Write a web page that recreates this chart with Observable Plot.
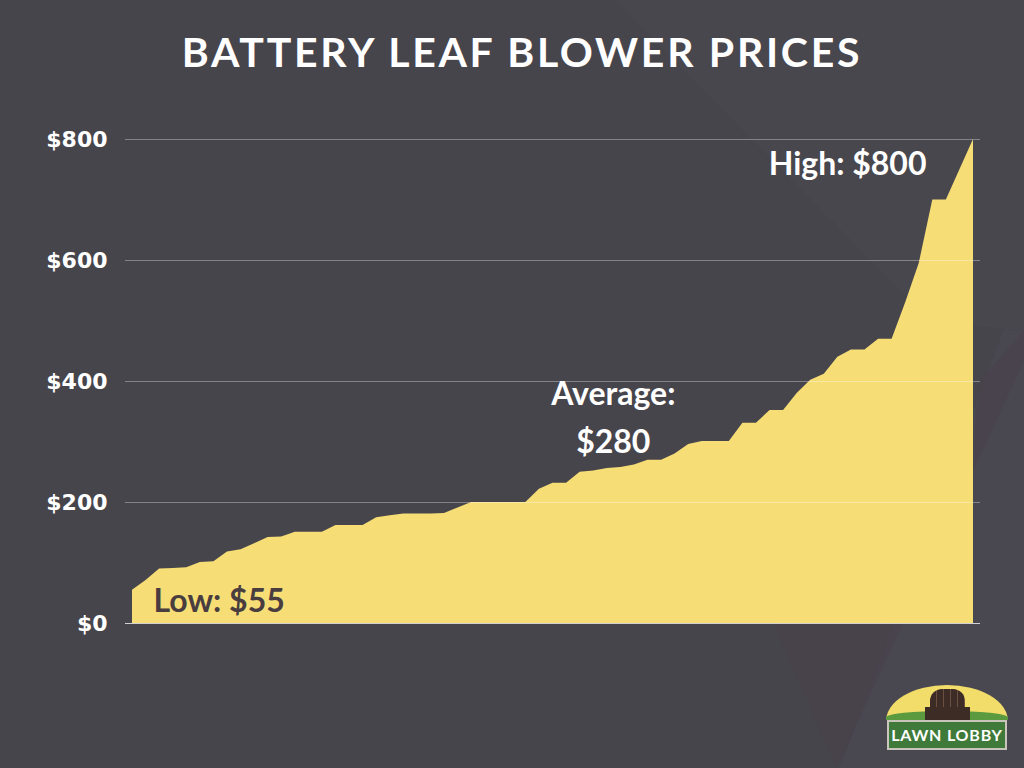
<!DOCTYPE html>
<html>
<head>
<meta charset="utf-8">
<script src="https://cdn.jsdelivr.net/npm/d3@7"></script>
<script src="https://cdn.jsdelivr.net/npm/@observablehq/plot@0.6"></script>
<style>
  html, body { margin: 0; padding: 0; }
  body { width: 1024px; height: 768px; background: #47454c; position: relative; overflow: hidden; font-family: Lato, "DejaVu Sans", sans-serif; }
  .bg { position: absolute; inset: 0; }
  .bg1 { background: #4a4950; clip-path: polygon(60% 0, 100% 0, 100% 43%, 91% 42%); opacity: 0.5; }
  .bg2 { background: #48404a; clip-path: polygon(95.7% 49.5%, 100% 43%, 100% 47%, 81.7% 100%, 75.5% 81%, 93% 81%); opacity: 0.55; }
  .bg3 { background: #4a4a52; clip-path: polygon(98% 43%, 100% 43%, 100% 100%, 82% 100%); opacity: 0.7; }
  #title { position: absolute; top: 28px; left: 0; width: 1044px; text-align: center; color: #fff; font-family: Lato, sans-serif; font-weight: 700; font-size: 41px; letter-spacing: 2.7px; line-height: 48px; }
  #chart { position: absolute; left: 0; top: 0; }
  #chart text.anno { letter-spacing: 1.4px; }
  #logo { position: absolute; left: 885px; top: 684px; width: 124px; height: 66px; }
  #logo .sun { position: absolute; left: 1px; top: 1px; width: 122px; height: 70px; border-radius: 61px 61px 0 0 / 36px 36px 0 0; background: #f3dd6a; clip-path: inset(0 0 38px 0); }
  #logo .grass { position: absolute; left: 1px; top: 27px; width: 122px; height: 9px; background: #5c9a3f; border-radius: 50% 50% 0 0 / 70% 70% 0 0; }
  #logo .chair { position: absolute; left: 45px; top: 5px; width: 35px; height: 31px; background: repeating-linear-gradient(90deg, #3d2b26 0 6px, #6a5040 6px 7px); border-radius: 12px 12px 0 0; }
  #logo .chairb { position: absolute; left: 40px; top: 23px; width: 45px; height: 13px; background: #3d2b26; }
  #logo .label { position: absolute; left: 2px; top: 36px; width: 116px; height: 26px; background: #3f7a3a; border: 2px solid #c9c5bd; color: #fff; font-family: Lato, sans-serif; font-weight: 700; font-size: 16px; line-height: 26px; text-align: center; letter-spacing: 0.8px; white-space: nowrap; overflow: hidden; }
</style>
</head>
<body>
<div class="bg bg1"></div>
<div class="bg bg3"></div>
<div class="bg bg2"></div>
<div id="title">BATTERY LEAF BLOWER PRICES</div>
<div id="chart"></div>
<div id="logo"><div class="sun"></div><div class="grass"></div><div class="chair"></div><div class="chairb"></div><div class="label">LAWN LOBBY</div></div>
<script>
// Prices of battery leaf blowers, sorted ascending
const prices = [
  55, 71, 90, 91, 92, 101, 102, 118, 122, 132,
  142, 143, 151, 151, 151, 162, 162, 162, 175, 178,
  181, 181, 181, 182, 191, 200, 200, 200, 200, 200,
  222, 232, 232, 250, 252, 256, 258, 262, 270, 270,
  280, 296, 301, 301, 301, 331, 331, 352, 352, 380,
  402, 412, 440, 452, 452, 470, 470, 530, 595, 700,
  700, 750, 800
];
const yTicks = [0, 200, 400, 600, 800];
const tickLabels = ["$0", "$200", "$400", "$600", "$800"];

// Annotations (anchored in data coordinates)
const annoText = ["High: $800", "Average:\n$280", "Low: $55"];
const annoX = [62, 35, 0];
const annoY = [800, 280, 0];

const data = prices.map((p, i) => ({i, p}));
const annos = annoText.map((t, k) => ({t, x: annoX[k], y: annoY[k]}));

const font = "Lato, 'DejaVu Sans', sans-serif";

const chart = Plot.plot({
  width: 1024,
  height: 768,
  marginTop: 139,
  marginBottom: 145,
  marginLeft: 125,
  marginRight: 44,
  style: {background: "transparent", color: "#fff", fontFamily: font},
  x: {domain: [0, prices.length - 1], insetLeft: 7, insetRight: 7, axis: null},
  y: {domain: [0, 800], axis: null},
  marks: [
    Plot.areaY(data, {x: "i", y: "p", fill: "#f6dd76"}),
    Plot.ruleY(yTicks.filter(d => d > 0), {stroke: "#ffffff", strokeOpacity: 0.33, strokeWidth: 1}),
    Plot.ruleY([0], {stroke: "#ffffff", strokeOpacity: 0.75, strokeWidth: 1}),
    Plot.axisY(yTicks, {
      tickSize: 0, tickPadding: 18, tickFormat: (d) => tickLabels[yTicks.indexOf(d)],
      fontSize: 22, fontWeight: 700, fill: "#ffffff", label: null,
      fontFamily: "'DejaVu Sans', sans-serif"
    }),
    Plot.text(annos.filter(d => d.x === 62), {x: "x", y: "y", text: "t", className: "anno", textAnchor: "end", dx: -47, dy: 25, fontSize: 32, fontWeight: 700, fill: "#ffffff", fontFamily: font}),
    Plot.text(annos.filter(d => d.x === 35), {x: "x", y: "y", text: "t", className: "anno", textAnchor: "middle", dx: 6, dy: -40, lineHeight: 1.5, fontSize: 32, fontWeight: 700, fill: "#ffffff", fontFamily: font}),
    Plot.text(annos.filter(d => d.x === 0), {x: "x", y: "y", text: "t", className: "anno", textAnchor: "start", dx: 21, dy: -22, fontSize: 32, fontWeight: 700, fill: "#4a3d3f", fontFamily: font})
  ]
});
document.getElementById("chart").appendChild(chart);
</script>
</body>
</html>
